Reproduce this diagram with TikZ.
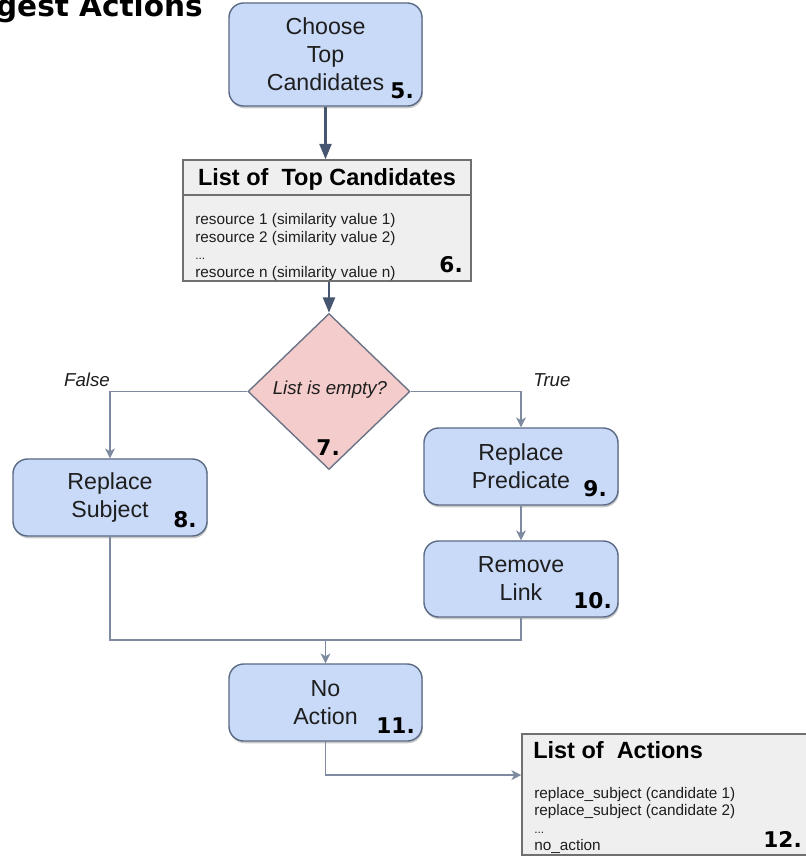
\documentclass[tikz,border=0pt]{standalone}
\usepackage{fontspec}
\setmainfont{Liberation Sans}
\newfontfamily\numfont{DejaVu Sans}
\usetikzlibrary{shapes.geometric,arrows.meta,shadows}

\definecolor{boxfill}{HTML}{C9DAF8}
\definecolor{boxline}{HTML}{5B6B85}
\definecolor{listfill}{HTML}{EFEFEF}
\definecolor{listline}{HTML}{707070}
\definecolor{testfill}{HTML}{F4CCCC}
\definecolor{testline}{HTML}{6B7486}
\definecolor{mainarrow}{HTML}{465570}
\definecolor{thinarrow}{HTML}{7D8AA0}
\definecolor{txt}{HTML}{1E1E1E}

\begin{document}
\begin{tikzpicture}[x=0.025cm, y=-0.025cm,
  stepbox/.style={draw=boxline, line width=1pt, fill=boxfill, rounded corners=10.5pt,
    align=center, text=txt, font=\fontsize{16.5}{19.9}\selectfont,
    execute at begin node=\rule{0pt}{16.4pt},
    drop shadow={shadow xshift=0.6pt, shadow yshift=-1.6pt, opacity=0.35, fill=black!60}},
  listbox/.style={draw=listline, line width=1pt, fill=listfill},
  testbox/.style={diamond, draw=testline, line width=1pt, fill=testfill, inner sep=0pt},
  head/.style={font=\fontsize{16.7}{20}\selectfont\bfseries, text=black, inner sep=0pt},
  small/.style={font=\fontsize{10.9}{12.4}\selectfont, text=txt, align=left, inner sep=0pt},
  num/.style={font=\numfont\bfseries\fontsize{15.4}{17}\selectfont, text=black, inner sep=0pt},
  branch/.style={font=\fontsize{13.3}{16}\selectfont\itshape, text=txt, inner sep=0pt},
  bigflow/.style={draw=mainarrow, line width=1.8pt, -{Triangle[length=11pt,width=8.5pt]}},
  flow/.style={draw=thinarrow, line width=0.9pt, -{Stealth[length=7pt,width=7pt,inset=2pt]}},
  link/.style={draw=thinarrow, line width=0.9pt}]
  \useasboundingbox (0,0) rectangle (806,862);
  \clip (0,0) rectangle (806,862);

  % title, cut by the page edge
  \node[num, font=\numfont\bfseries\fontsize{21}{24}\selectfont, anchor=base east] (title) at (203,16) {gest Actions};

  % 5. choose top candidates
  \node[stepbox, minimum width=4.825cm, minimum height=2.575cm] (choose) at (325.5,54.5) {Choose\\Top\\Candidates};
  \node[num, anchor=base east] (n5) at (414,98) {5.};

  % 6. list of top candidates
  \node[listbox, minimum width=7.2cm, minimum height=3.025cm] (topcand) at (327,220.5) {};
  \draw[listline, line width=1pt] (topcand.west |- 0,195) -- (topcand.east |- 0,195);
  \node[head, anchor=base] (tophead) at (327,185) {List of~ Top Candidates};
  \node[small, anchor=north west] (topbody) at (195,213.5) {resource 1 (similarity value 1)\\resource 2 (similarity value 2)\\{\fontsize{8.5}{10}\selectfont ...}\\resource n (similarity value n)};
  \node[num, anchor=base east] (n6) at (463,272) {6.};

  % 7. test
  \node[testbox, minimum width=4.05cm, minimum height=3.9cm] (test) at (329,391.5) {};
  \node[branch] (testtext) at (330,390) {List is empty?};
  \node[num, anchor=base east] (n7) at (340,455) {7.};
  \node[branch, anchor=base] (lfalse) at (87,386) {False};
  \node[branch, anchor=base] (ltrue) at (552,386) {True};

  % 8. - 11. actions
  \node[stepbox, minimum width=4.85cm, minimum height=1.925cm] (subj) at (110,497.5) {Replace\\Subject};
  \node[num, anchor=base east] (n8) at (197,527) {8.};
  \node[stepbox, minimum width=4.85cm, minimum height=1.925cm] (pred) at (521,466.5) {Replace\\Predicate};
  \node[num, anchor=base east] (n9) at (607,496) {9.};
  \node[stepbox, minimum width=4.85cm, minimum height=1.9cm] (remove) at (521,579) {Remove\\Link};
  \node[num, anchor=base east] (n10) at (612,608) {10.};
  \node[stepbox, minimum width=4.825cm, minimum height=1.925cm] (noact) at (325.5,702.5) {No\\Action};
  \node[num, anchor=base east] (n11) at (415,733) {11.};

  % 12. list of actions
  \node[listbox, minimum width=7.5cm, minimum height=3.025cm] (actions) at (672,794.5) {};
  \node[head, anchor=base west] (acthead) at (533,758) {List of~ Actions};
  \node[small, anchor=north west] (actbody) at (534,787) {replace\_subject (candidate 1)\\replace\_subject (candidate 2)\\{\fontsize{8.5}{10}\selectfont ...}\\no\_action};
  \node[num, anchor=base east] (n12) at (802,847) {12.};

  % connectors
  \draw[bigflow] (choose.south) -- (choose.south |- topcand.north);
  \draw[bigflow] (topcand.south -| test.north) -- (test.north);
  \draw[flow] (test.west) -| (subj.north);
  \draw[flow] (test.east) -| (pred.north);
  \draw[flow] (pred) -- (remove);
  \coordinate (merge) at (325.5,640);
  \draw[link] (subj.south) |- (merge);
  \draw[link] (remove.south) |- (merge);
  \draw[flow] (merge) -- (noact.north);
  \draw[flow] (noact.south) |- ([yshift=13.8pt]actions.west);
\end{tikzpicture}
\end{document}
